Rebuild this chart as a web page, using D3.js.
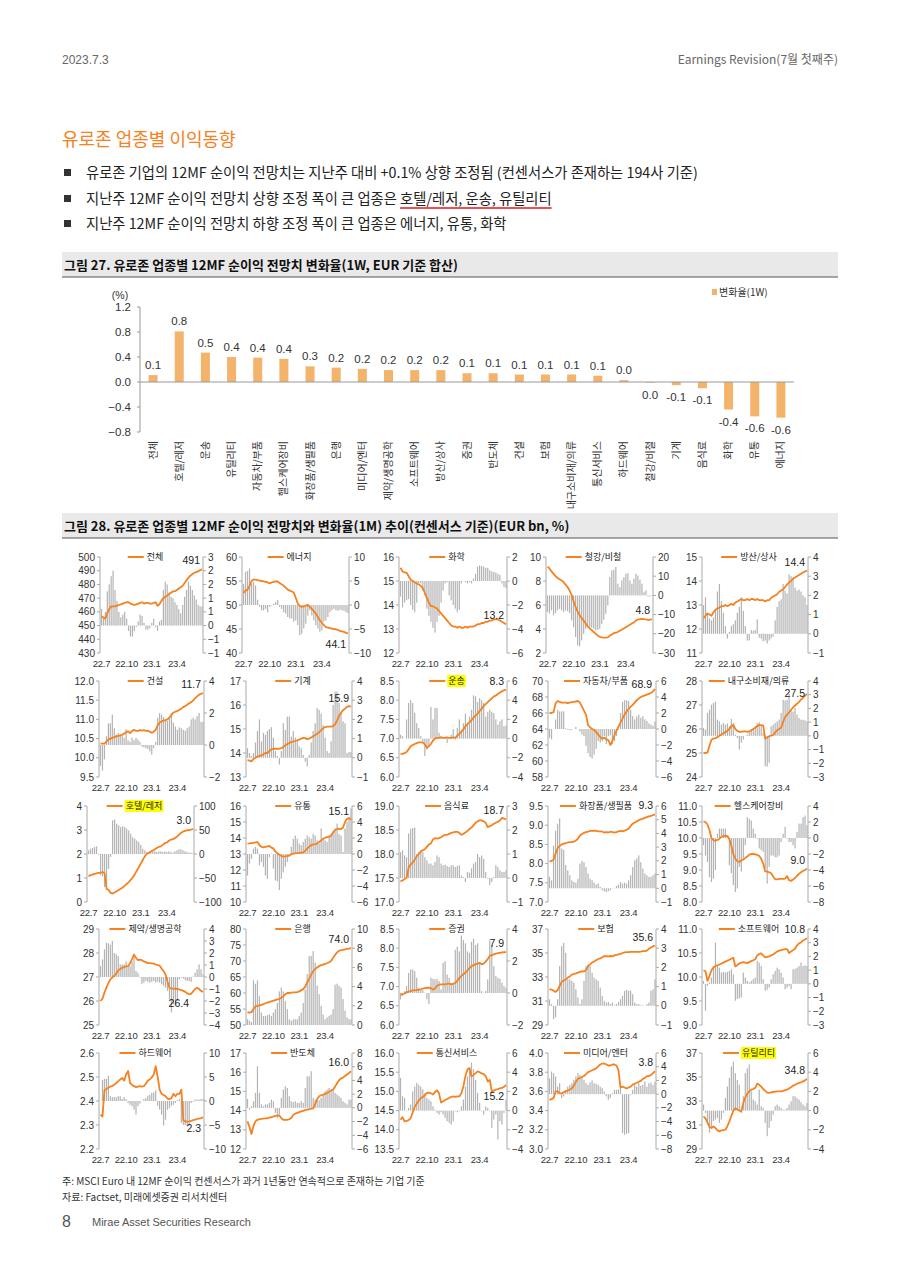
<!DOCTYPE html>
<html>
<head>
<meta charset="utf-8">
<script src="https://cdn.jsdelivr.net/npm/d3@7"></script>
<style>
  body { margin: 0; background: #fff; }
  svg { display: block; }
</style>
</head>
<body>
<svg id="page" width="900" height="1273"></svg>
<script>
// ---------- figure 27 data ----------
const sectors = ["전체","호텔/레저","운송","유틸리티","자동차/부품","헬스케어장비","화장품/생필품","은행","미디어/엔터","제약/생명공학","소프트웨어","방산/상사","증권","반도체","건설","보험","내구소비재/의류","통신서비스","하드웨어","철강/비철","기계","음식료","화학","유통","에너지"];
const change1w = [0.11,0.81,0.47,0.40,0.39,0.37,0.25,0.23,0.21,0.19,0.19,0.19,0.14,0.14,0.12,0.12,0.12,0.10,0.03,-0.01,-0.05,-0.10,-0.44,-0.55,-0.57];
const change1wLabels = ["0.1","0.8","0.5","0.4","0.4","0.4","0.3","0.2","0.2","0.2","0.2","0.2","0.1","0.1","0.1","0.1","0.1","0.1","0.0","0.0","-0.1","-0.1","-0.4","-0.6","-0.6"];
const barTicks = [-0.8,-0.4,0.0,0.4,0.8,1.2];

// ---------- figure 28 data (weekly, 22.7 ~ 23.7) ----------
const weekTickLabels = ["22.7","22.10","23.1","23.4"];
const weekTickIndex = [0,13,26,39];

const totalLine = [456.5,456,455,459,462,464,464,464,464.5,465,465.5,466,466.5,467,467,466,465.5,465,465.5,466,466.5,467,466,466.5,466.5,466,466,466.5,467,464.5,465.5,468,470,471,472,473,474,475,475,476,477,478,479,481,483,485,486.5,487.5,488.5,489,489.5,490.5,491];
const totalBar = [0.6,0.3,0.5,1.25,1.5,1.8,2.0,1.3,0.9,0.5,0.3,0.4,0.5,0.25,-0.2,-0.4,-0.4,-0.2,-0.05,0.15,0.4,0.35,0.1,-0.15,-0.15,-0.1,0.1,0.25,-0.05,-0.2,0.15,0.2,1.3,1.6,1.5,1.2,1.05,1.0,0.85,0.75,0.6,0.45,0.75,1.05,1.3,1.6,1.45,1.3,1.1,0.95,0.75,0.7,0.7];

const energyLine = [52.5,53,53.2,54,55,55.3,55.3,55.2,55.1,55.0,54.9,54.8,54.7,54.5,54.7,54.8,54.9,54.9,54.6,54.3,54.0,53.6,53.2,53.0,52.8,52.6,51.5,50.3,49.8,49.6,49.7,49.9,50.0,49.6,49.2,48.7,48.2,47.5,46.8,46.3,45.8,45.4,45.3,45.2,45.1,45.0,44.9,44.8,44.6,44.5,44.4,44.2,44.1];
const energyBar = [4.4,6.9,7.1,7.6,4.4,4.8,4.1,1.1,-0.4,-1.1,-1.1,-0.8,-1.5,-0.4,-0.1,0.3,0.6,1.0,-0.4,-0.8,-1.5,-1.8,-2.5,-2.8,-2.8,-3.5,-3.2,-4.2,-6.3,-6.0,-4.9,-3.9,-2.2,-1.1,-2.2,-3.2,-4.2,-4.9,-5.6,-5.3,-3.5,-3.2,-2.5,-1.5,-1.1,-0.8,-1.1,-1.2,-1.0,-1.1,-1.2,-1.5,-1.7];

const chemLine = [15.55,15.4,15.35,15.35,15.2,15.05,15.0,14.95,14.9,14.85,14.8,14.7,14.5,14.3,14.1,13.95,13.95,13.9,13.85,13.75,13.65,13.55,13.45,13.35,13.25,13.15,13.1,13.1,13.05,13.1,13.05,13.05,13.1,13.05,13.1,13.1,13.1,13.15,13.2,13.2,13.25,13.25,13.3,13.3,13.35,13.35,13.4,13.4,13.4,13.35,13.3,13.25,13.2];
const chemBar = [-1.3,-2.2,-1.8,-1.6,-1.5,-2.0,-2.4,-2.6,-1.8,-0.2,-0.2,-0.8,-1.2,-2.3,-2.9,-3.4,-3.9,-4.3,-3.4,-2.9,-1.8,-0.8,-0.2,-0.1,-1.2,-1.6,-2.0,-2.3,-2.6,-2.4,-0.2,0.0,-0.1,-0.2,-0.1,-0.2,0.2,0.6,1.2,1.3,1.25,1.2,1.1,1.1,0.9,0.8,0.75,0.7,0.6,0.5,-0.2,-0.5,-0.6];

const steelLine = [9.2,9.05,8.8,8.6,8.4,8.25,8.15,8.05,7.9,7.7,7.5,7.2,6.85,6.3,5.85,5.45,5.15,4.9,4.7,4.45,4.2,4.05,3.9,3.75,3.6,3.45,3.35,3.3,3.28,3.28,3.3,3.45,3.55,3.65,3.7,3.75,3.85,3.95,4.05,4.15,4.25,4.35,4.45,4.55,4.7,4.8,4.82,4.85,4.82,4.8,4.75,4.78,4.8];
const steelBar = [-8.7,-9.5,-7.8,-10.4,-9.2,-7.8,-7.0,-7.8,-8.7,-7.8,-8.2,-9.2,-13.0,-16.5,-21.7,-26.0,-26.5,-23.4,-20.0,-17.4,-16.2,-16.5,-16.8,-17.4,-18.2,-17.9,-17.4,-14.8,-12.7,-9.5,-5.2,9.5,13.0,13.4,14.8,6.1,4.3,7.8,9.5,11.3,11.6,7.8,6.1,8.7,11.3,10.4,8.2,6.1,1.7,2.6,-0.5,-0.5,-0.3];

const tradeLine = [12.45,12.55,12.65,12.6,12.55,12.7,12.8,12.85,12.9,12.95,12.95,13.0,12.95,13.0,13.05,13.0,13.1,13.15,13.2,13.25,13.2,13.2,13.25,13.2,13.25,13.25,13.2,13.25,13.2,13.2,13.2,13.15,13.2,13.2,13.3,13.35,13.4,13.45,13.55,13.6,13.65,13.75,13.85,13.95,14.0,14.1,14.15,14.2,14.25,14.3,14.35,14.4,14.42];
const tradeBar = [1.5,1.9,1.0,0.8,0.7,0.85,1.3,2.2,2.6,1.7,1.1,0.4,-0.25,0.1,0.4,0.5,0.7,1.1,1.4,1.9,1.2,0.4,-0.35,-0.35,0.2,0.15,0.2,0.75,-0.2,-0.25,-0.4,-0.35,-0.5,-0.35,-0.25,-0.15,0.7,1.4,1.7,1.8,2.6,2.25,2.1,3.1,3.0,2.9,2.4,2.25,2.3,2.2,2.0,1.9,1.5];

const constLine = [10.37,10.37,10.37,10.42,10.48,10.5,10.52,10.54,10.56,10.57,10.58,10.6,10.63,10.67,10.69,10.64,10.7,10.73,10.7,10.7,10.72,10.71,10.72,10.7,10.7,10.68,10.65,10.68,10.73,10.85,10.92,10.95,10.97,10.98,11.0,11.05,11.12,11.18,11.2,11.22,11.25,11.28,11.32,11.35,11.38,11.42,11.45,11.49,11.55,11.6,11.64,11.67,11.68];
const constBar = [-1.3,-1.6,-0.9,0.55,1.35,1.35,1.9,1.05,0.65,0.75,0.7,0.6,0.45,1.0,0.3,0.2,0.45,0.3,0.45,0.35,0.2,-0.1,-0.15,-0.2,-0.25,-0.4,-0.6,-0.2,0.2,1.7,2.0,1.9,1.75,1.6,1.5,1.7,2.0,1.4,1.15,0.95,1.1,1.05,0.95,0.9,1.05,1.15,1.6,1.7,1.6,1.8,2.0,1.45,1.45];

const machLine = [13.7,13.68,13.65,13.75,13.8,13.85,13.88,13.9,13.95,14.0,14.0,14.08,14.15,14.17,14.18,14.17,14.18,14.2,14.25,14.32,14.37,14.42,14.45,14.48,14.5,14.53,14.56,14.6,14.63,14.62,14.58,14.6,14.65,14.7,14.75,14.8,14.87,14.95,15.03,15.08,15.1,15.1,15.1,15.12,15.2,15.35,15.55,15.68,15.78,15.85,15.92,15.95,15.93];
const machBar = [0.5,0.25,0.1,0.25,0.8,1.4,2.0,0.85,1.3,1.2,1.4,1.5,1.6,1.05,0.35,0.1,-0.35,0.35,1.8,1.45,2.15,2.15,1.1,1.4,1.05,0.85,0.6,0.5,0.15,-0.2,-0.45,0.15,0.8,1.4,1.8,2.6,2.5,2.3,1.7,1.05,0.35,0.25,0.85,2.75,3.45,3.45,2.85,2.3,1.9,1.8,0.25,0.3,0.3];

const transLine = [6.6,6.6,6.62,6.65,6.72,6.8,6.83,6.86,6.88,6.9,6.9,6.9,6.85,6.76,6.8,6.86,6.95,7.0,7.02,7.02,7.03,7.02,7.02,7.03,7.02,7.02,7.03,7.02,7.08,7.12,7.18,7.24,7.32,7.38,7.42,7.48,7.55,7.6,7.65,7.72,7.78,7.85,7.9,7.95,8.0,8.05,8.1,8.12,8.16,8.2,8.23,8.26,8.27];
const transBar = [0.4,0.25,0.0,2.0,3.7,4.0,3.7,2.7,1.6,1.1,0.25,-0.3,-1.8,-1.15,-0.8,3.3,2.0,3.2,3.2,0.6,0.25,0.0,0.15,-0.45,0.05,0.4,1.0,-0.1,1.1,2.0,0.9,1.6,2.6,1.45,2.3,3.0,4.5,4.4,3.8,4.2,4.0,3.7,2.3,2.8,3.0,2.8,2.65,2.0,1.45,1.8,2.0,1.3,1.35];

const autoLine = [66.0,66.0,66.1,67.2,67.5,67.4,67.3,67.3,67.3,67.25,67.3,67.35,67.4,67.45,67.5,67.3,66.8,66.3,65.8,64.5,64.2,64.0,63.9,63.6,63.3,63.0,62.8,62.9,62.7,62.6,62.0,62.5,63.2,63.8,64.3,64.8,65.3,65.8,66.2,66.5,66.8,67.0,67.3,67.6,67.8,68.0,68.1,68.2,68.3,68.4,68.5,68.7,69.0];
const autoBar = [-1.1,-1.3,0.0,1.2,2.4,2.2,2.2,2.2,0.1,-0.1,-0.15,-0.1,0.0,0.25,0.0,-0.3,-0.7,-0.9,-2.1,-3.0,-3.5,-3.7,-3.2,-2.5,-1.5,-1.7,-1.5,-0.9,-1.9,-0.9,-0.8,-1.9,-1.5,-0.9,-0.1,2.0,3.4,3.6,3.6,3.5,2.4,1.6,1.2,1.6,1.8,1.4,1.6,1.2,1.0,0.7,0.55,0.4,0.95];

const durLine = [25.0,25.0,25.02,25.3,25.55,25.6,25.62,25.66,25.72,25.77,25.82,25.87,25.92,26.0,26.12,26.17,26.0,25.92,25.88,25.88,25.9,25.9,25.88,25.9,25.95,26.0,26.05,26.12,26.17,26.15,26.15,25.6,25.65,25.7,25.72,25.75,25.85,25.95,26.0,26.05,26.3,26.5,26.6,26.7,26.8,26.9,26.98,27.05,27.13,27.22,27.3,27.38,27.46];
const durBar = [0.58,0.46,1.67,1.9,2.27,2.4,2.5,1.18,1.06,0.82,0.94,0.82,0.9,0.7,1.23,0.94,0.1,-0.15,-1.0,-0.5,-0.27,-0.02,0.1,0.27,0.46,0.5,0.7,0.94,1.0,0.7,0.22,-2.2,-2.25,-1.96,0.7,0.82,0.94,1.06,1.18,1.67,2.63,2.58,2.63,3.07,1.9,1.78,2.03,1.55,1.3,1.18,1.18,1.13,1.06];

const hotelLine = [1.08,1.12,1.14,1.17,1.19,1.21,1.22,1.25,1.2,0.55,0.5,0.38,0.35,0.4,0.45,0.5,0.55,0.6,0.68,0.75,0.83,0.92,1.02,1.15,1.3,1.45,1.6,1.75,1.9,2.0,2.05,2.1,2.15,2.2,2.25,2.3,2.32,2.38,2.45,2.48,2.55,2.6,2.62,2.66,2.72,2.8,2.88,2.93,2.96,2.98,3.0,3.02,3.05];
const hotelBar = [7.6,11,12.5,14.6,16,-1.4,-44,-47,-69,-65,-31,-6,70,72,63,60,56,58,56,53,49,42,35,32,28,25,19,11,7.6,4.2,2.8,4.2,5.6,5.6,4.2,5.6,5.6,4.2,5.6,4.2,5.6,4.2,2.8,5.6,7.6,9.7,9.7,7.6,5.6,4.2,2.8,2.8,1.4];

const retailLine = [13.65,13.66,13.68,13.7,13.72,13.75,13.55,13.45,13.42,13.45,13.48,13.5,13.4,13.35,13.15,13.05,12.95,12.88,12.83,12.85,12.88,12.92,12.98,13.02,13.04,13.05,13.06,13.08,13.1,13.2,13.35,13.45,13.56,13.6,13.62,13.65,13.75,13.85,13.95,14.02,14.05,14.08,14.15,14.35,14.5,14.55,14.58,14.55,14.65,15.0,15.2,15.25,15.15];
const retailBar = [-2.7,-1.2,-0.6,0.67,0.9,0.67,-1.4,-1.0,-1.6,-2.7,-3.1,-0.4,0.05,-1.8,-3.3,-3.4,-4.5,-3.1,-2.3,-1.6,-1.0,-0.4,0.9,1.9,2.3,1.9,1.3,1.1,1.5,1.9,2.3,2.1,1.9,2.5,2.3,1.7,1.3,3.2,1.9,1.7,1.5,2.3,2.5,2.7,3.2,3.8,2.5,2.3,0.25,3.2,4.0,4.4,5.7];

const foodLine = [17.43,17.45,17.48,17.5,17.72,17.78,17.82,17.88,17.95,18.0,18.05,18.08,18.1,18.15,18.2,18.22,18.3,18.33,18.32,18.33,18.35,18.38,18.4,18.4,18.42,18.44,18.45,18.46,18.46,18.44,18.4,18.42,18.45,18.48,18.52,18.55,18.6,18.65,18.68,18.7,18.7,18.68,18.65,18.56,18.58,18.6,18.63,18.65,18.67,18.7,18.75,18.74,18.72];
const foodBar = [1.08,1.15,0.94,0.87,1.85,2.05,2.08,2.1,1.0,1.08,1.15,1.08,0.87,0.74,0.6,0.6,0.53,0.67,0.94,0.87,0.6,0.53,0.56,0.5,0.46,0.53,0.53,0.46,0.5,0.53,0.1,0.04,-0.17,0.25,0.22,0.4,0.6,0.67,1.0,0.87,0.94,0.8,0.25,-0.03,-0.3,-0.17,0.04,0.53,0.46,0.32,0.25,0.25,0.32];

const cosmLine = [8.06,8.07,8.1,8.26,8.4,8.46,8.5,8.52,8.53,8.55,8.56,8.56,8.57,8.6,8.65,8.73,8.77,8.8,8.82,8.83,8.85,8.85,8.86,8.85,8.84,8.84,8.83,8.81,8.82,8.81,8.83,8.82,8.81,8.82,8.84,8.85,8.84,8.86,8.88,8.91,8.98,9.04,9.07,9.1,9.13,9.15,9.17,9.19,9.21,9.23,9.24,9.26,9.28];
const cosmBar = [0.83,0.58,3.1,4.2,4.7,5.1,2.9,2.8,1.7,1.3,0.95,0.58,0.46,0.41,0.7,1.8,2.0,1.9,1.55,1.07,0.7,0.58,0.41,0.27,0.34,0.1,-0.15,-0.22,-0.27,-0.22,-0.15,-0.02,0.02,0.17,0.27,0.46,0.34,0.41,0.34,0.58,0.95,1.55,2.04,2.17,2.4,1.9,1.44,1.07,0.95,0.83,0.83,0.95,1.07];

const hcLine = [10.52,10.5,10.42,10.25,10.0,9.93,9.92,9.94,9.98,10.03,10.06,10.07,10.06,9.97,9.75,9.5,9.35,9.28,9.25,9.3,9.33,9.38,9.42,9.48,9.5,9.5,9.49,9.47,9.44,9.35,9.2,8.96,8.95,8.93,8.9,8.8,8.71,8.71,8.72,8.72,8.72,8.73,8.81,8.68,8.66,8.7,8.75,8.82,8.88,8.93,8.97,9.0,9.04];
const hcBar = [-0.9,-2.2,-3.0,-4.9,-5.5,-5.1,-4.0,0.54,1.17,1.17,1.17,1.17,0.1,-3.4,-4.4,-5.9,-6.75,-6.3,-3.6,-4.2,-2.6,-0.9,2.6,2.4,2.2,1.17,0.54,-0.1,-1.3,-1.5,-1.75,-3.8,-5.7,-3.6,-2.2,-2.2,-2.4,-2.4,-2.2,-0.5,0.54,1.4,-0.1,-0.5,-0.5,-0.9,-1.3,0.75,1.8,1.8,2.6,2.8,1.6];

const pharmaLine = [26.0,26.1,26.35,26.56,26.75,26.9,26.98,27.05,27.15,27.28,27.33,27.38,27.42,27.44,27.45,27.57,27.75,27.93,27.8,27.7,27.72,27.7,27.65,27.62,27.58,27.58,27.57,27.56,27.52,27.5,27.47,27.35,27.25,27.1,26.8,26.55,26.53,26.52,26.51,26.5,26.48,26.45,26.42,26.38,26.32,26.28,26.3,26.4,26.5,26.55,26.5,26.42,26.38];
const pharmaBar = [0.9,1.46,2.3,2.84,2.8,2.7,3.0,2.0,1.9,1.75,1.05,1.05,1.05,1.3,0.9,0.9,1.3,1.75,0.5,0.35,-0.05,-0.6,-0.47,-0.33,-0.4,-0.47,-0.4,-0.33,-0.47,-0.4,-0.47,-0.6,-0.75,-0.9,-1.15,-1.85,-2.95,-2.27,-2.4,-2.0,-0.2,-0.05,-0.14,-0.25,-0.33,-0.33,-0.4,0.03,0.36,0.64,1.05,0.64,0.22];

const bankLine = [53.9,53.9,54.0,55.0,55.8,56.0,56.1,56.3,56.5,56.8,57.0,57.2,57.4,57.6,57.8,58.0,58.1,58.5,59.0,59.6,60.0,60.0,60.1,60.2,60.2,60.3,60.5,60.9,61.2,62.0,63.3,64.5,65.8,66.8,67.5,68.0,68.4,68.7,68.9,69.1,69.3,69.6,70.0,71.0,71.9,72.7,73.2,73.4,73.5,73.6,73.8,73.9,74.0];
const bankBar = [0.6,0.45,0.3,4.65,4.3,4.65,3.0,1.3,0.95,0.95,1.03,1.1,0.95,1.3,1.65,2.3,3.5,3.9,3.5,2.5,1.65,0.6,0.45,0.6,0.6,0.6,0.95,1.3,2.3,3.7,5.3,7.2,7.2,7.7,6.5,4.1,3.2,2.0,1.1,0.6,0.8,0.95,1.1,1.65,4.2,4.3,4.1,3.9,2.7,1.5,0.8,0.6,0.6];

const secLine = [6.8,6.8,6.82,6.85,6.87,6.88,6.9,6.9,6.91,6.92,6.93,6.95,6.96,6.97,6.97,6.96,6.92,6.95,7.02,7.05,7.06,7.06,7.06,7.07,7.08,7.06,7.07,7.1,7.15,7.22,7.28,7.32,7.36,7.42,7.48,7.53,7.56,7.58,7.6,7.62,7.58,7.6,7.65,7.72,7.8,7.82,7.84,7.86,7.87,7.88,7.89,7.9,7.9];
const secBar = [-0.4,-0.2,0.12,0.43,1.26,1.47,1.47,1.37,0.95,0.33,0.18,0.18,0.02,-0.4,-0.7,0.95,0.89,0.85,0.89,0.75,0.22,1.88,1.99,1.16,0.95,0.64,0.54,2.7,2.9,2.6,3.6,3.3,3.1,2.6,2.5,3.2,3.4,3.0,3.1,1.88,0.12,0.02,0.12,0.85,3.3,3.0,1.67,1.06,0.95,0.89,0.64,0.43,0.33];

const insLine = [31.98,31.95,31.85,31.76,31.9,32.25,32.6,32.7,32.8,32.95,33.05,33.2,33.25,33.3,33.36,33.42,33.48,33.45,33.6,33.9,34.05,34.2,34.3,34.4,34.5,34.55,34.65,34.74,34.73,34.72,34.75,34.72,34.8,34.84,34.88,34.92,35.0,35.06,35.07,35.08,35.1,35.1,35.1,35.1,35.1,35.12,35.15,35.15,35.2,35.35,35.45,35.55,35.62];
const insBar = [0.34,0.09,-0.7,-0.6,0.34,2.07,3.1,3.28,2.76,1.38,1.38,1.3,1.21,0.86,0.43,0.09,0.34,1.3,2.07,2.16,2.07,1.72,1.47,1.38,1.3,0.95,0.52,0.26,0.17,0.2,0.09,0.17,0.03,0.09,0.2,0.34,0.52,0.78,0.83,0.78,0.78,0.6,0.17,0.09,0.09,0.03,0.03,0.0,0.09,0.17,0.78,0.86,1.38];

const swLine = [10.14,10.12,9.92,10.02,10.14,10.2,10.23,10.24,10.26,10.28,10.3,10.32,10.34,10.36,10.38,10.4,10.22,10.25,10.28,10.3,10.31,10.3,10.29,10.31,10.33,10.35,10.37,10.45,10.48,10.49,10.45,10.41,10.42,10.43,10.45,10.47,10.5,10.53,10.55,10.56,10.57,10.58,10.58,10.5,10.53,10.56,10.59,10.66,10.7,10.72,10.76,10.78,10.81];
const swBar = [0.22,-1.96,-0.15,0.1,0.46,1.3,3.0,1.3,1.18,0.82,0.87,0.82,0.87,0.94,1.06,0.7,-1.23,-1.1,-1.06,-0.99,0.82,0.46,0.22,0.1,0.22,0.34,0.46,1.67,1.55,1.3,0.34,-0.5,-0.43,-0.27,0.34,0.7,0.94,1.18,1.06,0.82,0.46,-0.39,-0.27,-0.15,-0.39,1.06,1.1,1.18,1.3,1.55,1.3,1.35,1.3];

const hwLine = [2.343,2.335,2.445,2.45,2.455,2.46,2.463,2.468,2.475,2.482,2.49,2.496,2.485,2.51,2.525,2.475,2.467,2.462,2.458,2.46,2.462,2.46,2.462,2.472,2.485,2.49,2.498,2.51,2.545,2.5,2.447,2.43,2.425,2.42,2.41,2.408,2.412,2.43,2.42,2.43,2.43,2.447,2.32,2.315,2.314,2.315,2.317,2.32,2.322,2.325,2.327,2.329,2.332];
const hwBar = [0.0,4.4,4.6,4.6,5.3,1.0,0.8,0.8,0.8,1.0,1.0,0.4,0.8,0.4,-0.4,-0.8,-1.1,-1.8,-2.85,-1.1,-0.55,-0.05,0.4,0.6,1.1,1.3,1.7,1.8,2.2,-1.0,-1.8,-2.85,-5.1,-3.9,-1.8,-1.5,-1.0,-0.8,-0.4,0.15,0.4,-4.6,-5.0,-5.0,-5.3,-5.1,-0.4,-0.15,0.3,0.3,0.3,0.4,0.4];

const semiLine = [13.44,13.15,12.78,13.2,13.44,13.52,13.56,13.57,13.58,13.59,13.6,13.63,13.66,13.69,13.72,13.74,13.75,13.6,13.52,13.52,13.52,13.55,13.62,13.78,13.84,13.88,13.92,13.96,13.99,14.02,14.05,14.07,14.1,14.12,14.35,14.6,14.75,14.8,14.83,14.87,14.92,14.98,15.05,15.09,15.25,15.42,15.58,15.68,15.72,15.8,15.88,15.96,16.05];
const semiBar = [1.3,-0.24,0.24,0.97,2.2,6.07,2.2,0.5,0.24,0.5,0.5,0.73,1.2,0.97,-0.73,-1.46,-0.97,1.46,2.67,3.15,2.9,1.7,0.97,0.83,0.97,0.73,0.73,0.97,0.73,2.9,4.6,4.6,5.34,1.46,1.2,1.2,1.1,1.46,1.94,2.43,2.67,2.9,2.43,2.67,2.2,1.94,1.7,1.46,0.97,0.73,0.5,1.2,1.2];

const telLine = [14.26,14.33,14.22,14.23,14.25,14.3,14.45,14.6,14.68,14.76,14.83,14.85,14.9,14.96,14.97,14.95,14.92,14.98,15.03,14.95,14.71,14.74,14.78,14.8,14.83,14.86,14.87,14.86,14.87,14.87,14.95,15.13,15.4,15.57,15.61,15.39,15.43,15.47,15.52,15.5,15.47,15.45,15.4,15.26,15.3,15.0,15.02,15.05,15.06,15.08,15.09,15.12,15.17];
const telBar = [3.4,1.5,1.3,-0.07,0.28,0.62,2.0,2.5,2.9,2.7,2.5,2.2,1.84,1.3,1.15,0.97,0.45,0.1,-0.24,-0.42,-0.17,-0.42,-0.76,-1.1,-1.28,-1.46,-1.1,-0.07,-0.17,-0.07,0.45,1.15,2.5,3.55,4.1,5.0,4.3,3.2,1.84,0.8,-0.07,-0.42,0.45,0.28,-0.07,-1.8,-0.94,-0.42,-3.0,-1.1,-1.46,-0.24,1.15];

const mediaLine = [3.51,3.52,3.53,3.6,3.6,3.58,3.58,3.59,3.6,3.61,3.62,3.63,3.66,3.7,3.73,3.74,3.75,3.76,3.78,3.8,3.81,3.82,3.83,3.84,3.86,3.88,3.89,3.89,3.88,3.87,3.87,3.88,3.88,3.87,3.82,3.64,3.65,3.64,3.63,3.64,3.65,3.67,3.68,3.69,3.7,3.71,3.73,3.74,3.76,3.76,3.77,3.79,3.81];
const mediaBar = [2.3,3.3,3.06,2.57,1.1,1.6,-0.58,-0.34,0.63,1.1,1.36,1.6,2.1,2.57,3.06,2.8,2.57,2.1,1.6,1.36,1.7,1.99,1.6,1.5,1.36,1.1,0.87,0.39,-0.34,-0.83,-0.58,0.15,0.63,0.63,0.73,0.87,-5.68,-5.92,-5.78,-5.68,-0.1,0.63,1.36,1.1,1.6,1.2,1.36,1.84,1.1,1.6,1.7,1.36,1.84];

const utilLine = [31.72,31.55,31.2,30.83,30.75,30.89,30.75,30.55,30.47,30.55,30.58,30.61,30.9,31.3,31.75,32.2,32.4,32.3,32.2,32.14,32.83,33.3,33.6,33.8,33.94,34.0,34.1,34.45,34.35,34.2,34.0,33.85,33.7,33.68,33.72,33.75,33.78,33.81,33.8,33.81,33.85,33.9,33.95,34.05,34.15,34.28,34.35,34.44,34.5,34.56,34.64,34.72,34.83];
const utilBar = [0.63,-0.24,-1.28,-2.3,-1.8,-1.1,-0.94,-0.76,-1.28,-0.94,-0.24,1.3,2.5,3.4,4.6,5.1,3.9,3.2,2.7,-0.24,1.5,3.9,4.4,4.8,2.0,1.15,0.97,0.63,2.2,0.45,0.28,-1.28,-2.67,-1.8,-1.1,-0.42,0.45,0.63,0.45,0.28,0.1,0.1,0.28,0.63,0.97,1.5,1.5,1.3,1.15,0.87,0.63,0.45,0.8];

// panel table: name, series, left axis [min,max,step,decimals], right axis [min,max,step,decimals], end label
const panels = [
  { name: "전체",          line: totalLine,  bar: totalBar,  left: [430, 500, 10, 0],  right: [-1, 2.5, 0.5, 0], last: "491" },
  { name: "에너지",        line: energyLine, bar: energyBar, left: [40, 60, 5, 0],     right: [-10, 10, 5, 0],  last: "44.1", below: true },
  { name: "화학",          line: chemLine,   bar: chemBar,   left: [12, 16, 1, 0],     right: [-6, 2, 2, 0],    last: "13.2" },
  { name: "철강/비철",     line: steelLine,  bar: steelBar,  left: [2, 10, 2, 0],      right: [-30, 20, 10, 0], last: "4.8" },
  { name: "방산/상사",     line: tradeLine,  bar: tradeBar,  left: [11, 15, 1, 0],     right: [-1, 4, 1, 0],    last: "14.4" },
  { name: "건설",          line: constLine,  bar: constBar,  left: [9.5, 12, 0.5, 1],  right: [-2, 4, 2, 0],    last: "11.7" },
  { name: "기계",          line: machLine,   bar: machBar,   left: [13, 17, 1, 0],     right: [-1, 4, 1, 0],    last: "15.9" },
  { name: "운송",          line: transLine,  bar: transBar,  left: [6, 8.5, 0.5, 1],   right: [-4, 6, 2, 0],    last: "8.3", mark: true },
  { name: "자동차/부품",   line: autoLine,   bar: autoBar,   left: [58, 70, 2, 0],     right: [-6, 6, 2, 0],    last: "68.9" },
  { name: "내구소비재/의류", line: durLine,  bar: durBar,    left: [24, 28, 1, 0],     right: [-3, 4, 1, 0],    last: "27.5" },
  { name: "호텔/레저",     line: hotelLine,  bar: hotelBar,  left: [0, 4, 1, 0],       right: [-100, 100, 50, 0], last: "3.0", mark: true },
  { name: "유통",          line: retailLine, bar: retailBar, left: [10, 16, 1, 0],     right: [-6, 6, 2, 0],    last: "15.1" },
  { name: "음식료",        line: foodLine,   bar: foodBar,   left: [17, 19, 0.5, 1],   right: [-1, 3, 1, 0],    last: "18.7" },
  { name: "화장품/생필품", line: cosmLine,   bar: cosmBar,   left: [7, 9.5, 0.5, 1],   right: [-1, 6, 1, 0],    last: "9.3" },
  { name: "헬스케어장비",  line: hcLine,     bar: hcBar,     left: [8, 11, 0.5, 1],    right: [-8, 4, 2, 0],    last: "9.0" },
  { name: "제약/생명공학", line: pharmaLine, bar: pharmaBar, left: [25, 29, 1, 0],     right: [-4, 4, 1, 0],    last: "26.4", below: true },
  { name: "은행",          line: bankLine,   bar: bankBar,   left: [50, 80, 5, 0],     right: [0, 10, 2, 0],    last: "74.0" },
  { name: "증권",          line: secLine,    bar: secBar,    left: [6, 8.5, 0.5, 1],   right: [-2, 4, 2, 0],    last: "7.9" },
  { name: "보험",          line: insLine,    bar: insBar,    left: [29, 37, 2, 0],     right: [-1, 4, 1, 0],    last: "35.6" },
  { name: "소프트웨어",    line: swLine,     bar: swBar,     left: [9, 11, 0.5, 1],    right: [-3, 4, 1, 0],    last: "10.8" },
  { name: "하드웨어",      line: hwLine,     bar: hwBar,     left: [2.2, 2.6, 0.1, 1], right: [-10, 10, 5, 0],  last: "2.3", below: true },
  { name: "반도체",        line: semiLine,   bar: semiBar,   left: [12, 17, 1, 0],     right: [-6, 8, 2, 0],    last: "16.0" },
  { name: "통신서비스",    line: telLine,    bar: telBar,    left: [13.5, 16, 0.5, 1], right: [-4, 6, 2, 0],    last: "15.2", below: true },
  { name: "미디어/엔터",   line: mediaLine,  bar: mediaBar,  left: [3, 4, 0.2, 1],     right: [-8, 6, 2, 0],    last: "3.8" },
  { name: "유틸리티",      line: utilLine,   bar: utilBar,   left: [29, 37, 2, 0],     right: [-4, 6, 2, 0],    last: "34.8", mark: true }
];

// ---------- layout ----------
const NUM = "'Liberation Sans', Arial, 'Noto Sans CJK KR', sans-serif";
const KR = "'Noto Sans CJK KR', 'Noto Sans', sans-serif";
const ORANGE = "#F5821F";
const colX = [[99, 204], [246, 352], [399, 507], [548, 656], [702, 808]];
const rowY = [557, 681, 806, 929, 1053];
const plotH = 96;
const xOverride = { 0: [100, 203], 1: [242, 349], 3: [546, 653], 10: [87, 194] };
// end-label nudges [dx, dy] relative to default placement
const labelNudge = { 9: [0, 8], 8: [-1, 4], 15: [-12, 0] };

const svg = d3.select("#page");
svg.append("rect").attr("width", 900).attr("height", 1273).attr("fill", "#fff");

// header
svg.append("text").attr("x", 62).attr("y", 64).attr("font-family", NUM).attr("font-size", 12)
  .attr("fill", "#666").text("2023.7.3");
svg.append("text").attr("x", 838).attr("y", 64).attr("text-anchor", "end").attr("font-family", KR)
  .attr("font-size", 12).attr("fill", "#666").text("Earnings Revision(7월 첫째주)");

svg.append("text").attr("x", 62).attr("y", 146).attr("font-family", KR).attr("font-size", 18)
  .attr("fill", ORANGE).text("유로존 업종별 이익동향");

const bullets = [
  ["유로존 기업의 12MF 순이익 전망치는 지난주 대비 +0.1% 상향 조정됨 (컨센서스가 존재하는 194사 기준)", ""],
  ["지난주 12MF 순이익 전망치 상향 조정 폭이 큰 업종은 ", "호텔/레저, 운송, 유틸리티"],
  ["지난주 12MF 순이익 전망치 하향 조정 폭이 큰 업종은 에너지, 유통, 화학", ""]
];
const bulletY = [178, 204, 229];
bullets.forEach((b, i) => {
  svg.append("rect").attr("x", 64).attr("y", bulletY[i] - 9).attr("width", 7).attr("height", 7).attr("fill", "#333");
  const t = svg.append("text").attr("x", 86).attr("y", bulletY[i]).attr("font-family", KR)
    .attr("font-size", 14.3).attr("fill", "#222");
  t.append("tspan").text(b[0]);
  if (b[1]) {
    t.append("tspan").text(b[1]);
    const node = t.node();
    const s = b[0].length, n = b[1].length;
    const xs = node.getStartPositionOfChar(s).x;
    const xe = node.getEndPositionOfChar(s + n - 1).x;
    svg.append("line").attr("x1", xs).attr("x2", xe)
      .attr("y1", bulletY[i] + 4).attr("y2", bulletY[i] + 4).attr("stroke", "#E4161B").attr("stroke-width", 1.6);
  }
});

function figHeader(y, label) {
  svg.append("rect").attr("x", 62).attr("y", y).attr("width", 776).attr("height", 25).attr("fill", "#e9e9e9");
  svg.append("line").attr("x1", 62).attr("x2", 838).attr("y1", y + 25).attr("y2", y + 25)
    .attr("stroke", "#555").attr("stroke-width", 1);
  svg.append("text").attr("x", 64).attr("y", y + 18).attr("font-family", KR).attr("font-size", 13)
    .attr("font-weight", "bold").attr("fill", "#111").text(label);
}
figHeader(252, "그림 27. 유로존 업종별 12MF 순이익 전망치 변화율(1W, EUR 기준 합산)");
figHeader(513, "그림 28. 유로존 업종별 12MF 순이익 전망치와 변화율(1M) 추이(컨센서스 기준)(EUR bn, %)");

// ---------- figure 27 ----------
{
  const x = d3.scaleBand().domain(sectors).range([140, 794]);
  const y = d3.scaleLinear().domain([-0.8, 1.2]).range([432, 307]);
  const g = svg.append("g");
  g.append("line").attr("x1", 140).attr("x2", 140).attr("y1", 307).attr("y2", 432).attr("stroke", "#999");
  barTicks.forEach(t => {
    g.append("line").attr("x1", 137).attr("x2", 140).attr("y1", y(t)).attr("y2", y(t)).attr("stroke", "#999");
    g.append("text").attr("x", 131).attr("y", y(t) + 4).attr("text-anchor", "end").attr("font-family", NUM)
      .attr("font-size", 11.5).attr("fill", "#333").text(d3.format(".1f")(t));
  });
  g.append("text").attr("x", 120).attr("y", 299).attr("text-anchor", "middle").attr("font-family", NUM)
    .attr("font-size", 10.5).attr("fill", "#333").text("(%)");
  const bw = 9;
  g.selectAll("rect.b").data(change1w).join("rect")
    .attr("x", (d, i) => x(sectors[i]) + x.bandwidth() / 2 - bw / 2)
    .attr("y", d => y(Math.max(0, d)))
    .attr("width", bw)
    .attr("height", d => Math.abs(y(d) - y(0)))
    .attr("fill", "#F3B36B");
  g.append("line").attr("x1", 140).attr("x2", 794).attr("y1", y(0)).attr("y2", y(0)).attr("stroke", "#999");
  g.selectAll("text.v").data(change1w).join("text")
    .attr("x", (d, i) => x(sectors[i]) + x.bandwidth() / 2)
    .attr("y", d => d >= 0 ? y(d) - 6 : y(d) + 16)
    .attr("text-anchor", "middle").attr("font-family", NUM).attr("font-size", 11.5).attr("fill", "#333")
    .text((d, i) => change1wLabels[i]);
  g.selectAll("text.c").data(sectors).join("text")
    .attr("transform", d => `translate(${x(d) + x.bandwidth() / 2},441) rotate(-90)`)
    .attr("text-anchor", "end").attr("dy", "0.35em").attr("font-family", KR).attr("font-size", 10)
    .attr("fill", "#333").text(d => d);
  g.append("rect").attr("x", 712).attr("y", 289).attr("width", 5).attr("height", 6).attr("fill", "#F3B36B");
  g.append("text").attr("x", 719).attr("y", 296).attr("font-family", KR).attr("font-size", 10)
    .attr("fill", "#333").text("변화율(1W)");
}

// ---------- figure 28 ----------
function ticksOf(a) {
  const n = Math.round((a[1] - a[0]) / a[2]);
  return d3.range(n + 1).map(i => +(a[0] + i * a[2]).toFixed(4));
}

panels.forEach((p, k) => {
  const col = k % 5, row = Math.floor(k / 5);
  const [x0, x1] = xOverride[k] || colX[col];
  const y0 = rowY[row], y1 = y0 + plotH;
  const g = svg.append("g");
  const x = d3.scaleLinear().domain([0, p.line.length - 1]).range([x0 + 1.5, x1 - 1]);
  const yL = d3.scaleLinear().domain([p.left[0], p.left[1]]).range([y1, y0]);
  const yR = d3.scaleLinear().domain([p.right[0], p.right[1]]).range([y1, y0]);

  // axes
  g.append("line").attr("x1", x0).attr("x2", x0).attr("y1", y0).attr("y2", y1).attr("stroke", "#aaa");
  g.append("line").attr("x1", x1).attr("x2", x1).attr("y1", y0).attr("y2", y1).attr("stroke", "#aaa");
  const fL = d3.format(`.${p.left[3]}f`), fR = d3.format(`.${p.right[3]}f`);
  ticksOf(p.left).forEach(t => {
    g.append("line").attr("x1", x0 - 3).attr("x2", x0).attr("y1", yL(t)).attr("y2", yL(t)).attr("stroke", "#aaa");
    g.append("text").attr("x", x0 - 5).attr("y", yL(t) + 3.5).attr("text-anchor", "end")
      .attr("font-family", NUM).attr("font-size", 10).attr("fill", "#333").text(fL(t));
  });
  ticksOf(p.right).forEach(t => {
    g.append("line").attr("x1", x1).attr("x2", x1 + 3).attr("y1", yR(t)).attr("y2", yR(t)).attr("stroke", "#aaa");
    g.append("text").attr("x", x1 + 5).attr("y", yR(t) + 3.5).attr("text-anchor", "start")
      .attr("font-family", NUM).attr("font-size", 10).attr("fill", "#333").text(fR(t));
  });
  weekTickIndex.forEach((ix, i) => {
    g.append("text").attr("x", x(ix)).attr("y", y1 + 14).attr("text-anchor", "middle")
      .attr("font-family", NUM).attr("font-size", 9.5).attr("letter-spacing", -0.2).attr("fill", "#333")
      .text(weekTickLabels[i]);
  });

  // bars (right axis)
  const xb = d3.scaleLinear().domain([0, p.bar.length - 1]).range([x0 + 1.5, x1 - 1]);
  g.selectAll("rect.bar").data(p.bar).join("rect")
    .attr("x", (d, i) => xb(i) - 0.6)
    .attr("y", d => Math.min(yR(0), yR(d)))
    .attr("width", 1.2)
    .attr("height", d => Math.abs(yR(d) - yR(0)))
    .attr("fill", "#b3b3b3");

  // line (left axis)
  g.append("path").datum(p.line)
    .attr("fill", "none").attr("stroke", ORANGE).attr("stroke-width", 1.8).attr("stroke-linejoin", "round")
    .attr("d", d3.line().x((d, i) => x(i)).y(d => yL(d)));

  // legend
  const cx = (x0 + x1) / 2 - 6;
  const lt = g.append("text").attr("y", y0 + 3.3).attr("font-family", KR).attr("font-size", 9)
    .attr("fill", "#222").text(p.name);
  const tw = lt.node().getComputedTextLength();
  const lw = 16, gap = 3;
  const left = cx - (lw + gap + tw) / 2;
  lt.attr("x", left + lw + gap);
  if (p.mark) {
    g.insert("rect", "text").attr("x", left + lw + gap - 1).attr("y", y0 - 6).attr("width", tw + 2)
      .attr("height", 12).attr("fill", "#FFFF00");
    lt.raise();
  }
  g.append("line").attr("x1", left).attr("x2", left + lw).attr("y1", y0).attr("y2", y0)
    .attr("stroke", ORANGE).attr("stroke-width", 2);

  // end value label
  const ye = yL(p.line[p.line.length - 1]);
  const [ndx, ndy] = labelNudge[k] || [0, 0];
  g.append("text").attr("x", x1 - 3 + ndx).attr("y", (p.below ? ye + 15 : ye - 5) + ndy).attr("text-anchor", "end")
    .attr("font-family", NUM).attr("font-size", 10.5).attr("fill", "#222").text(p.last);
});

// ---------- notes & footer ----------
svg.append("text").attr("x", 62).attr("y", 1185).attr("font-family", KR).attr("font-size", 10).attr("fill", "#333")
  .text("주: MSCI Euro 내 12MF 순이익 컨센서스가 과거 1년동안 연속적으로 존재하는 기업 기준");
svg.append("text").attr("x", 62).attr("y", 1201).attr("font-family", KR).attr("font-size", 10).attr("fill", "#333")
  .text("자료: Factset, 미래에셋증권 리서치센터");
svg.append("text").attr("x", 62).attr("y", 1227).attr("font-family", NUM).attr("font-size", 16).attr("fill", "#555")
  .text("8");
svg.append("text").attr("x", 92).attr("y", 1226).attr("font-family", NUM).attr("font-size", 11).attr("fill", "#555")
  .text("Mirae Asset Securities Research");
</script>
</body>
</html>
